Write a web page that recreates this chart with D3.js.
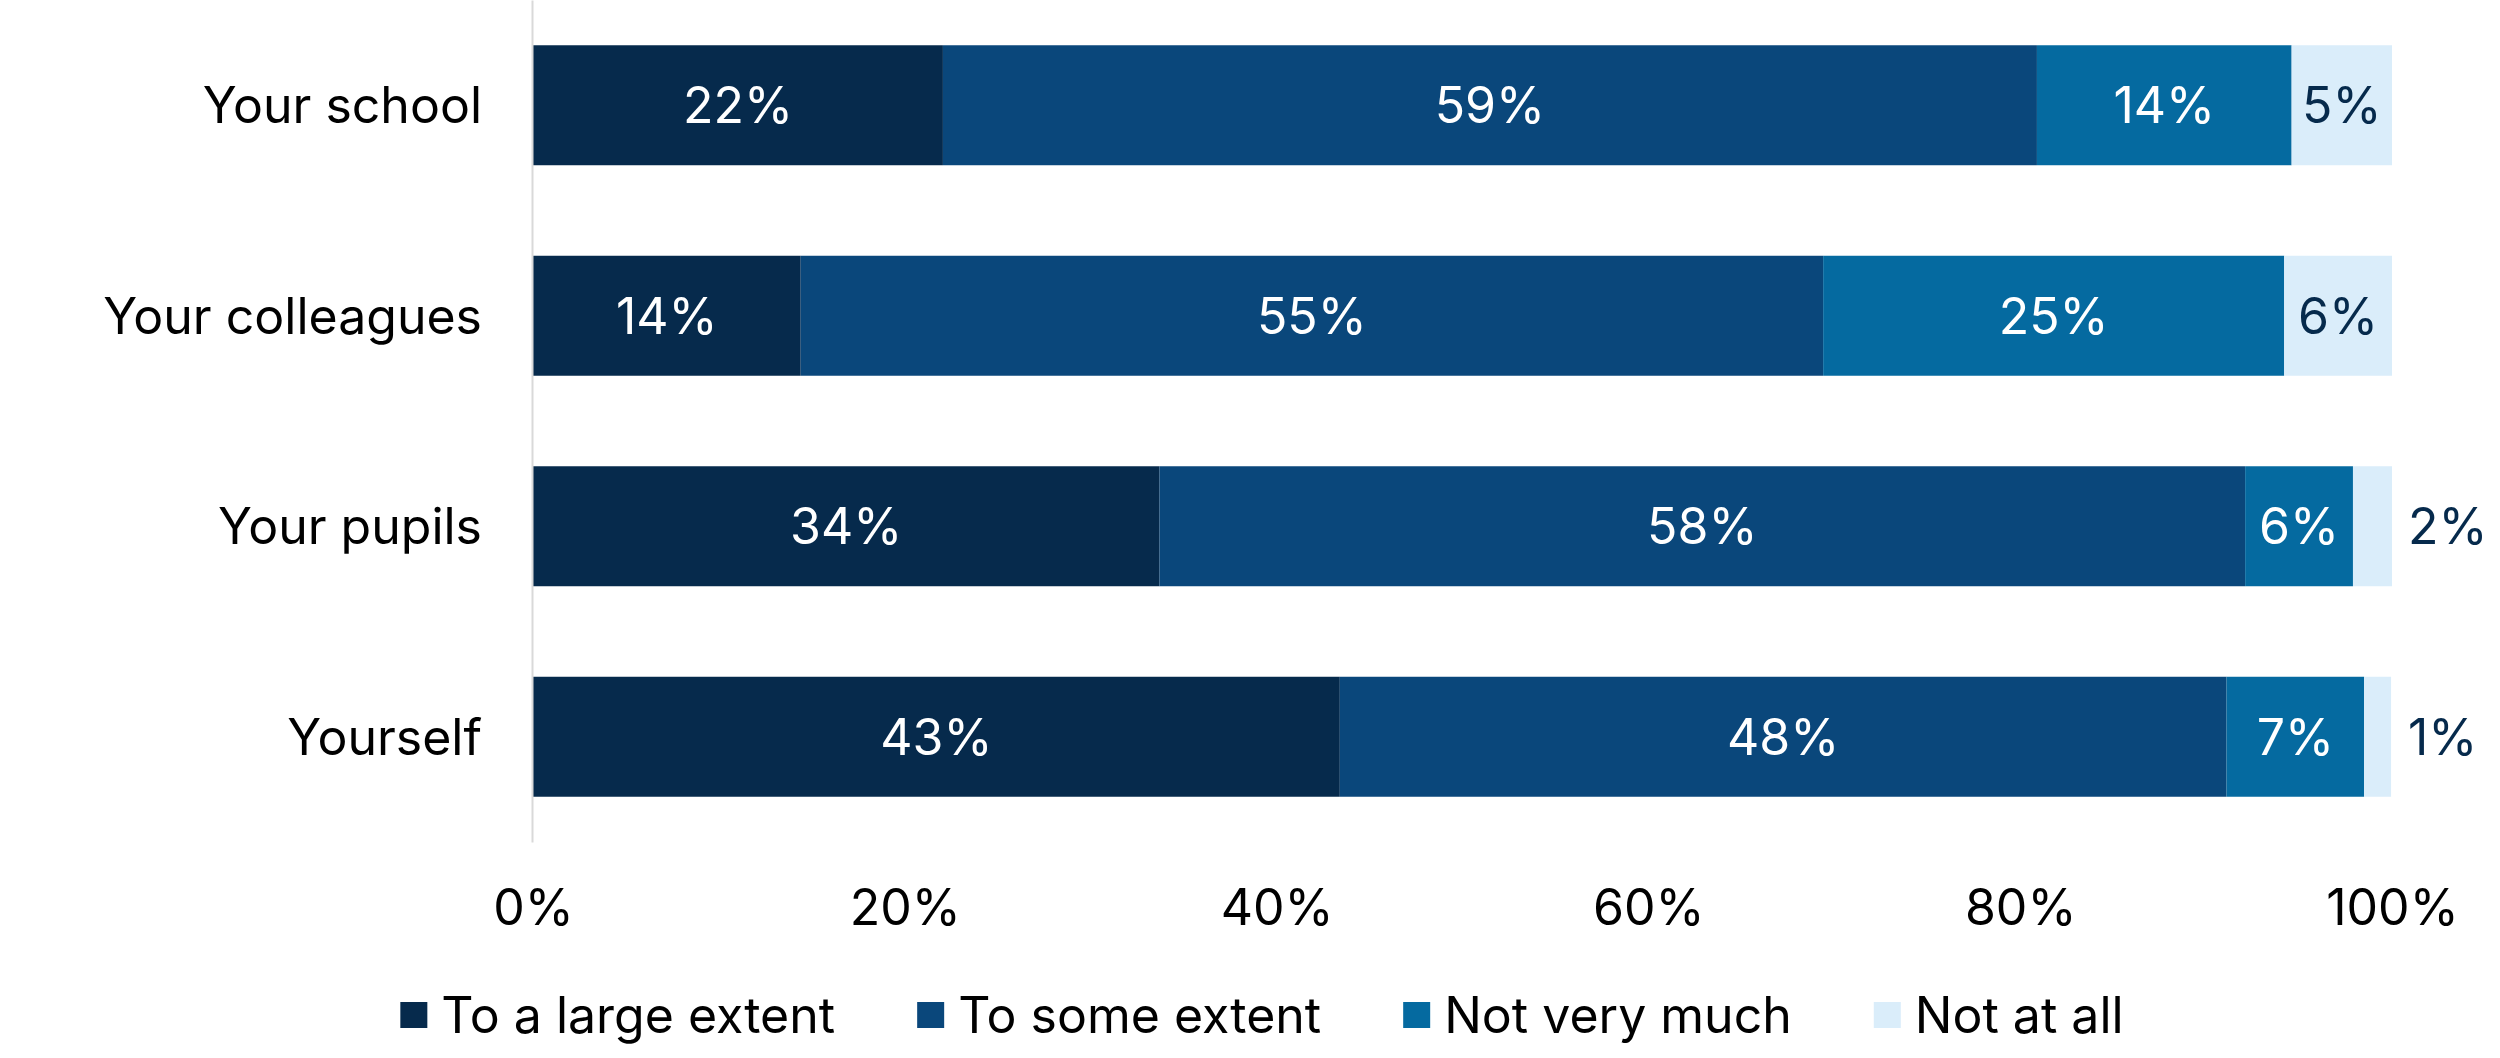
<!DOCTYPE html>
<html>
<head>
<meta charset="utf-8">
<script src="https://cdn.jsdelivr.net/npm/d3@7"></script>
<style>
	body { margin: 0; background: #fff; }
	svg { display: block; font-family: Inter, "Noto Sans", sans-serif; }
</style>
</head>
<body>
<div id="chart"></div>
<script>
// data (percent of respondents)
const categories = ['Your school', 'Your colleagues', 'Your pupils', 'Yourself'];
const seriesNames = ['To a large extent', 'To some extent', 'Not very much', 'Not at all'];
const largeExtent = [22.05, 14.4, 33.7, 43.4];
const someExtent  = [58.85, 55.0, 58.4, 47.7];
const notVeryMuch = [13.7, 24.8, 5.8, 7.4];
const notAtAll    = [5.4, 5.8, 2.1, 1.45];
const xTicks = [0, 20, 40, 60, 80, 100];

const seriesValues = [largeExtent, someExtent, notVeryMuch, notAtAll];
const colors = ['#062a4c', '#0a477b', '#056aa0', '#daedfa'];
const labelColors = ['#fff', '#fff', '#fff', '#062a4c'];

const W = 2500;
const H = 1058;
const margin = {t:0, l:533, r:108};
const plotH = 842;
const fontSize = '50px';

// one row per category, stacked by series
const rows = categories.map((c, i) => {
	const r = {category: c};
	seriesNames.forEach((s, j) => r[s] = seriesValues[j][i]);
	return r;
});
const stacked = d3.stack().keys(seriesNames)(rows);

const scaleX = d3.scaleLinear().domain([0, 100]).range([margin.l, W - margin.r]);
const scaleY = d3.scaleBand().domain(categories).range([margin.t, plotH])
	.paddingInner(0.43).paddingOuter(0.215);

const svg = d3.select('#chart').append('svg')
	.attr('width', W)
	.attr('height', H);

// bars
const layer = svg.append('g').attr('class', 'bars')
	.selectAll('g')
	.data(stacked)
	.join('g')
	.attr('fill', (d, i) => colors[i]);

layer.selectAll('rect')
	.data(d => d)
	.join('rect')
	.attr('x', d => scaleX(d[0]))
	.attr('y', d => scaleY(d.data.category))
	.attr('width', d => scaleX(d[1]) - scaleX(d[0]))
	.attr('height', scaleY.bandwidth());

// value labels, small end segments are labelled outside the bar
stacked.forEach((s, i) => {
	svg.append('g').selectAll('text')
		.data(s)
		.join('text')
		.attr('x', d => (d[1] - d[0]) < 3 ? scaleX(100) + 16 : scaleX((d[0] + d[1]) / 2))
		.attr('y', d => scaleY(d.data.category) + scaleY.bandwidth() / 2)
		.attr('dy', '0.36em')
		.attr('text-anchor', d => (d[1] - d[0]) < 3 ? 'start' : 'middle')
		.style('font-size', fontSize)
		.style('fill', labelColors[i])
		.text(d => Math.round(d.data[s.key]) + '%');
});

// y axis: light line and category labels
const axisY = d3.axisLeft(scaleY).tickSize(0).tickPadding(50);
const gy = svg.append('g')
	.attr('transform', `translate(${margin.l - 1}, 0)`)
	.call(axisY);
gy.select('.domain').attr('stroke', '#d9d9d9').attr('stroke-width', 2);
gy.selectAll('text')
	.style('font-size', fontSize)
	.style('font-family', 'Inter, "Noto Sans", sans-serif')
	.attr('fill', '#000')
	.attr('dy', '0.36em');

// x axis: labels only
const axisX = d3.axisBottom(scaleX)
	.tickValues(xTicks)
	.tickSize(0)
	.tickFormat(v => v + '%');
const gx = svg.append('g')
	.attr('transform', `translate(0, ${plotH})`)
	.call(axisX);
gx.select('.domain').remove();
gx.selectAll('text')
	.style('font-size', fontSize)
	.style('font-family', 'Inter, "Noto Sans", sans-serif')
	.attr('fill', '#000')
	.attr('y', 65)
	.attr('dy', '0.36em');

// legend, centred under the chart
const legend = svg.append('g').attr('class', 'legend');
const items = legend.selectAll('g')
	.data(seriesNames)
	.join('g');
items.append('rect')
	.attr('width', 27)
	.attr('height', 26)
	.attr('y', -13)
	.attr('fill', (d, i) => colors[i]);
items.append('text')
	.attr('x', 41)
	.attr('dy', '0.36em')
	.style('font-size', fontSize)
	.style('fill', '#000')
	.text(d => d);

let cursor = 0;
items.each(function(){
	const g = d3.select(this);
	g.attr('transform', `translate(${cursor}, 0)`);
	cursor += 41 + g.select('text').node().getComputedTextLength() + 82;
});
const legendW = cursor - 82;
legend.attr('transform', `translate(${1262 - legendW / 2}, 1015)`);
</script>
</body>
</html>
